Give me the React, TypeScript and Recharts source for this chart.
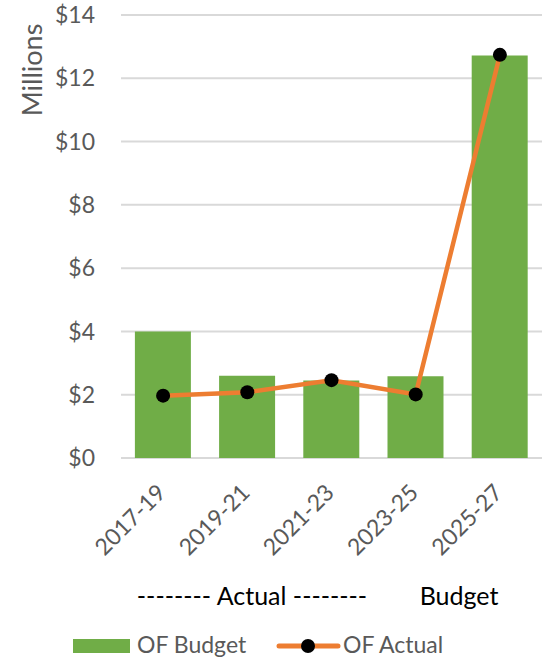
import { ComposedChart, Bar, Line, XAxis, YAxis, CartesianGrid, Legend } from 'recharts';

const periods = ['2017-19', '2019-21', '2021-23', '2023-25', '2025-27'];
const budget = [4.0, 2.6, 2.45, 2.58, 12.72];
const actual = [1.97, 2.08, 2.46, 2.01, 12.74];
const yTicks = [0, 2, 4, 6, 8, 10, 12, 14];

const GREEN = '#70AD47';
const ORANGE = '#ED7D31';
const GREY = '#595959';
const FONT = 'Lato, "Open Sans", sans-serif';

const data = periods.map((p, i) => ({ period: p, budget: budget[i], actual: actual[i] }));

const PeriodTick = (props: any) => {
  const { x, y, payload } = props;
  const ax = x + 4;
  const ay = y + 36;
  return (
    <text
      x={ax}
      y={ay}
      textAnchor="end"
      fill={GREY}
      fontSize={23}
      fontFamily={FONT}
      transform={`rotate(-45, ${ax}, ${ay})`}
    >
      {payload.value}
    </text>
  );
};

const LegendBox = () => (
  <svg width={542} height={100} style={{ display: 'block' }}>
    <text x={252} y={43} textAnchor="middle" fontSize={25} fontFamily={FONT} fill="#000">
      -------- Actual --------
    </text>
    <text x={459} y={43} textAnchor="middle" fontSize={25} fontFamily={FONT} fill="#000">
      Budget
    </text>
    <rect x={73} y={77} width={57} height={14} fill={GREEN} />
    <text x={137} y={91} fontSize={23} fontFamily={FONT} fill={GREY}>OF Budget</text>
    <line x1={279} y1={84} x2={338} y2={84} stroke={ORANGE} strokeWidth={5} strokeLinecap="round" />
    <circle cx={308} cy={84} r={7} fill="#000" />
    <text x={343} y={91} fontSize={23} fontFamily={FONT} fill={GREY}>OF Actual</text>
  </svg>
);

export default function App() {
  return (
    <div style={{ position: 'absolute', top: 0, left: 0, width: 542, height: 662, background: '#fff' }}>
      <ComposedChart
        width={542}
        height={662}
        data={data}
        margin={{ top: 15, right: 0, bottom: 44, left: 0 }}
        barCategoryGap="16.5%"
      >
        <CartesianGrid vertical={false} stroke="#D9D9D9" strokeWidth={2} />
        <XAxis
          dataKey="period"
          axisLine={false}
          tickLine={false}
          tickSize={0}
          tickMargin={0}
          height={60}
          interval={0}
          tick={<PeriodTick />}
        />
        <YAxis
          domain={[0, 14]}
          ticks={yTicks}
          width={121}
          axisLine={false}
          tickLine={false}
          tickSize={0}
          tickMargin={26}
          tickFormatter={(v: number) => `$${v}`}
          tick={{ fill: GREY, fontSize: 23, fontFamily: FONT }}
          label={{
            content: () => (
              <text
                x={42}
                y={70}
                textAnchor="middle"
                fontSize={27}
                fontFamily={FONT}
                fill={GREY}
                transform="rotate(-90, 42, 70)"
              >
                Millions
              </text>
            ),
          }}
        />
        <Legend
          verticalAlign="bottom"
          height={100}
          content={() => <LegendBox />}
          wrapperStyle={{ left: 0, bottom: 0, width: 542 }}
        />
        <Bar dataKey="budget" name="OF Budget" fill={GREEN} isAnimationActive={false} />
        <Line
          dataKey="actual"
          name="OF Actual"
          stroke={ORANGE}
          strokeWidth={4.5}
          dot={{ r: 7, fill: '#000', stroke: '#000', strokeWidth: 0 }}
          isAnimationActive={false}
        />
      </ComposedChart>
    </div>
  );
}
